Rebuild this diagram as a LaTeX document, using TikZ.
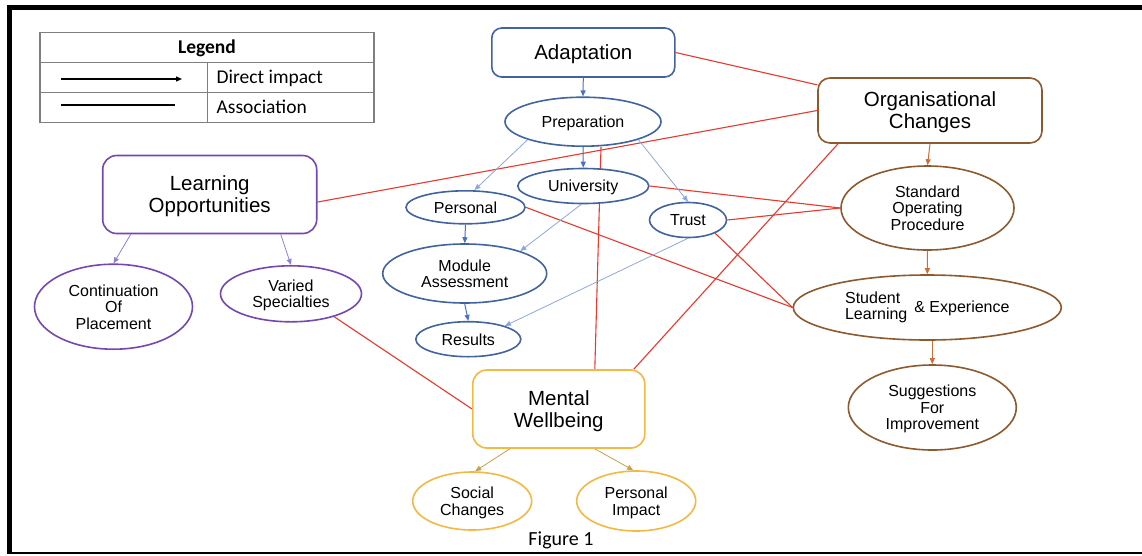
\documentclass[tikz,border=0pt]{standalone}
\usepackage{fontspec}
\setmainfont{Liberation Sans}
\newfontfamily\legendfont{Carlito}
\usetikzlibrary{shapes.geometric,arrows.meta,backgrounds}
\definecolor{blueB}{HTML}{41649F}
\definecolor{blueA}{HTML}{4A72C0}
\definecolor{blueL}{HTML}{8FA8DA}
\definecolor{assocred}{HTML}{E8392F}
\definecolor{brownB}{HTML}{8D5A2E}
\definecolor{brownA}{HTML}{C9703A}
\definecolor{purpB}{HTML}{7548B0}
\definecolor{purpA}{HTML}{8F80D8}
\definecolor{yelB}{HTML}{F4B942}
\definecolor{yelA}{HTML}{C9A04E}
\definecolor{legGray}{HTML}{7F7F7F}
\begin{document}
\begin{tikzpicture}[x=1pt,y=-1pt,
  box/.style={draw, rectangle, rounded corners=12pt, fill=white, line width=1.6pt, inner sep=0pt, align=center, text depth=0pt, font=\fontsize{20.5}{22}\selectfont},
  oval/.style={draw, ellipse, fill=white, line width=1.6pt, inner sep=0pt, align=center, text depth=0pt, font=\fontsize{16}{16.5}\selectfont},
  assoc/.style={draw=assocred, line width=1.1pt},
  imp/.style={-{Triangle[length=6pt,width=5pt]}, line width=1pt},
  legtext/.style={inner sep=0pt, font=\legendfont\fontsize{19.5}{21}\selectfont}
]
\useasboundingbox (0,0) rectangle (1142,555);

% frame
\fill (7,4.5) rectangle (1142,9.5);
\fill (7,4.5) rectangle (12,554.3);
\fill (7,552.3) rectangle (1142,554.3);

% legend
\draw[legGray, line width=1.4pt] (40,32.3) rectangle (374,122.3);
\draw[legGray, line width=1.4pt] (40,62.3) -- (374,62.3);
\draw[legGray, line width=1.4pt] (40,92.3) -- (374,92.3);
\draw[legGray, line width=1.4pt] (207.3,62.3) -- (207.3,122.3);
\node[legtext, anchor=base, font=\legendfont\bfseries\fontsize{19.5}{21}\selectfont] (legtitle) at (207,53.5) {Legend};
\node[legtext, anchor=base west] (legdirect) at (216.5,83.5) {Direct impact};
\node[legtext, anchor=base west] (legassoc) at (216.5,113.5) {Association};
\coordinate (la1) at (61,79);
\coordinate (la2) at (182,79);
\coordinate (lb1) at (61,105);
\coordinate (lb2) at (175,105);
\draw[-{Triangle[length=6pt,width=5pt]}, line width=1.3pt] (la1) -- (la2);
\draw[line width=1.3pt] (lb1) -- (lb2);

% main boxes
\node[box, draw=blueB, rounded corners=10pt, minimum width=183pt, minimum height=49pt] (adapt) at (583.3,52.5) {Adaptation};
\node[box, draw=brownB, minimum width=224pt, minimum height=65pt] (oc) at (930,110.5) {Organisational\\Changes};
\node[box, draw=purpB, rounded corners=14pt, minimum width=214pt, minimum height=78pt] (lo) at (209.7,194.5) {Learning\\Opportunities};
\node[box, draw=yelB, rounded corners=14pt, minimum width=172pt, minimum height=78pt] (mw) at (558.8,409) {Mental\\Wellbeing};

% blue ovals
\node[oval, draw=blueB, minimum width=156pt, minimum height=49pt] (prep) at (583,121.7) {Preparation};
\node[oval, draw=blueB, minimum width=131pt, minimum height=35pt] (uni) at (583.3,186) {University};
\node[oval, draw=blueB, minimum width=119pt, minimum height=33pt] (pers) at (465.5,207.3) {Personal};
\node[oval, draw=blueB, minimum width=77pt, minimum height=35pt] (trust) at (688,220) {Trust};
\node[oval, draw=blueB, minimum width=164pt, minimum height=59pt] (ma) at (464.7,273.5) {Module\\Assessment};
\node[oval, draw=blueB, minimum width=105pt, minimum height=35pt] (res) at (468.3,339.2) {Results};

% brown ovals
\node[oval, draw=brownB, minimum width=173pt, minimum height=84pt] (sop) at (927.5,208) {Standard\\Operating\\Procedure};
\node[oval, draw=brownB, text depth=11pt, minimum width=268pt, minimum height=65pt] (sle) at (927.3,307.5) {\begin{tabular}[c]{@{}l@{}}Student\\Learning\end{tabular}\hspace{7pt}\& Experience};
\node[oval, draw=brownB, minimum width=168pt, minimum height=85pt] (sfi) at (932.3,407.5) {Suggestions\\For\\Improvement};

% purple ovals
\node[oval, draw=purpB, minimum width=158pt, minimum height=85pt] (cont) at (113.5,306.7) {Continuation\\Of\\Placement};
\node[oval, draw=purpB, minimum width=141pt, minimum height=56pt] (var) at (291,293.8) {Varied\\Specialties};

% yellow ovals
\node[oval, draw=yelB, minimum width=119pt, minimum height=58pt] (soc) at (472.2,501) {Social\\Changes};
\node[oval, draw=yelB, minimum width=119pt, minimum height=60pt] (pimp) at (636.2,501) {Personal\\Impact};

% caption
\node[legtext, anchor=base, font=\legendfont\fontsize{20}{22}\selectfont] (fig) at (561,545.5) {Figure 1};

% associations (behind nodes)
\begin{pgfonlayer}{background}
\fill[white] (0,0) rectangle (1142,555);
\draw[assoc] (adapt.east) -- (oc);
\draw[assoc] (lo.-4) -- (oc.west);
\draw[assoc] ([xshift=18pt]prep.south) -- ([xshift=36pt]mw.north);
\draw[assoc] (uni.east) -- (sop.west);
\draw[assoc] (trust.east) -- (sop.west);
\draw[assoc] (trust.-26) -- (sle.west);
\draw[assoc] (pers.east) -- (sle.west);
\draw[assoc] ([xshift=-92pt]oc.south) -- ([xshift=75pt]mw.north);
\draw[assoc] (var.-28) -- (mw.west);
\end{pgfonlayer}

% direct impacts
\draw[imp, blueA] (adapt.south) -- (prep.north);
\draw[imp, blueA] (prep.south) -- (uni.north);
\draw[imp, blueL, line width=0.8pt] (prep.-162) -- ([xshift=9pt]pers.north);
\draw[imp, blueL, line width=0.8pt] (prep.-18) -- (trust.north);
\draw[imp, blueA] (pers.south) -- (ma.north);
\draw[imp, blueL, line width=0.8pt] ([xshift=-2pt]uni.south) -- (ma.22);
\draw[imp, blueA] (ma.south) -- (res.north);
\draw[imp, blueL, line width=0.8pt] (trust.south) -- (res.20);

\draw[imp, brownA] (oc.south) -- (sop.north);
\draw[imp, brownA] (sop.south) -- (sle.north);
\draw[imp, brownA] ([xshift=5pt]sle.south) -- (sfi.north);

\draw[imp, purpA, line width=0.8pt] ([xshift=-79pt]lo.south) -- (cont.north);
\draw[imp, purpA, line width=0.8pt] ([xshift=71pt]lo.south) -- (var.north);

\draw[imp, yelA, line width=0.8pt] ([xshift=-49pt]mw.south) -- ([xshift=3pt]soc.north);
\draw[imp, yelA, line width=0.8pt] ([xshift=36pt]mw.south) -- ([xshift=-3pt]pimp.north);
\end{tikzpicture}
\end{document}
